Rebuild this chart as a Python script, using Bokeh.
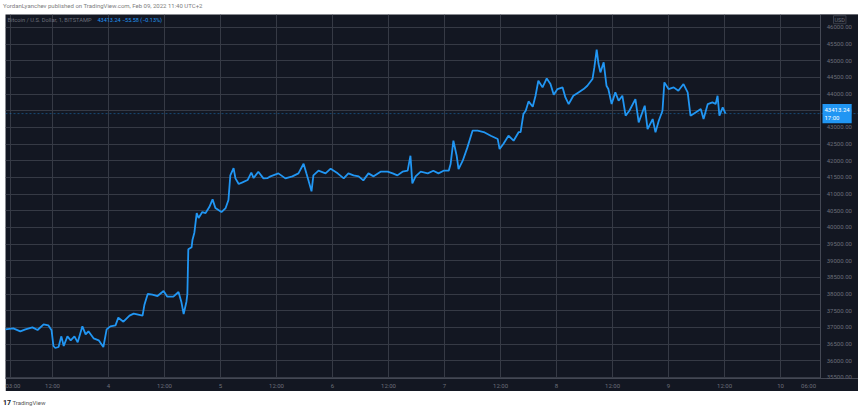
from bokeh.plotting import figure
from bokeh.layouts import column, row
from bokeh.models import (Div, Spacer, FixedTicker, SingleIntervalTicker, PrintfTickFormatter,
                          Span, Label, LinearAxis, BoxAnnotation)
from bokeh.embed import file_html
from bokeh.resources import INLINE

# hours since Feb 03 00:00 (UTC+2)
hours = [1.9, 3.6, 5.1, 6.2, 7.7, 8.8, 10.1, 11.1, 11.8, 12.2, 12.6, 13.3, 13.9, 14.4, 15.2,
         15.9, 16.7, 17.4, 18.4, 19.1, 19.7, 20.8, 21.9, 22.9, 23.6, 24.4, 25.5, 26.1, 27.2,
         28.5, 29.4, 31.3, 31.7, 32.4, 33.4, 34.5, 35.8, 36.6, 37.9, 39.0, 39.6, 40.1, 40.7,
         40.9, 41.1, 41.8, 42.0, 42.4, 42.9, 43.3, 44.1, 44.8, 45.6, 46.3, 46.9, 48.2, 49.1,
         49.7, 50.1, 50.8, 51.2, 51.9, 52.7, 53.8, 54.6, 55.1, 56.1, 57.2, 58.1, 58.7, 60.4,
         61.9, 63.4, 64.7, 65.8, 66.4, 66.9, 67.5, 67.9, 69.0, 70.5, 71.6, 73.1, 74.4, 75.4,
         76.5, 77.6, 78.6, 79.7, 80.8, 82.3, 83.8, 84.9, 85.9, 87.0, 88.1, 88.7, 89.1, 89.8,
         90.9, 92.4, 93.6, 94.7, 95.8, 96.9, 97.3, 97.9, 98.6, 99.0, 99.9, 100.9, 102.0, 103.1,
         104.4, 105.9, 107.4, 107.8, 108.6, 109.7, 110.8, 111.9, 112.3, 112.9, 113.4, 114.0,
         114.9, 115.5, 116.1, 117.0, 117.9, 118.7, 119.4, 120.2, 121.3, 121.9, 122.6, 123.6,
         124.7, 125.8, 126.6, 127.7, 128.1, 128.6, 129.0, 129.4, 130.1, 130.7, 131.1, 131.8,
         132.6, 133.3, 134.1, 134.8, 135.6, 136.9, 137.6, 138.9, 139.5, 140.6, 141.2, 141.9,
         142.7, 143.1, 144.0, 145.1, 146.1, 147.2, 148.1, 148.7, 149.8, 150.9, 151.5, 152.4,
         153.4, 154.1, 154.5, 154.9, 155.6, 156.2]
price = [36940, 36970, 36880, 36940, 37000, 36920, 37090, 37060, 36910, 36440, 36380, 36410,
         36730, 36440, 36730, 36610, 36730, 36550, 37030, 36790, 36880, 36670, 36610, 36410,
         36940, 37030, 37060, 37290, 37170, 37350, 37410, 37350, 37680, 38000, 37980, 37940,
         38090, 37920, 37920, 38060, 37770, 37400, 37770, 38000, 39340, 39400, 39630, 39840,
         40430, 40280, 40460, 40430, 40610, 40840, 40580, 40460, 40580, 40820, 41560, 41780,
         41470, 41300, 41350, 41420, 41640, 41480, 41670, 41470, 41480, 41530, 41620, 41470,
         41530, 41620, 41910, 41620, 41380, 41080, 41560, 41700, 41620, 41760, 41620, 41470,
         41620, 41560, 41530, 41410, 41620, 41530, 41670, 41670, 41620, 41560, 41670, 41700,
         42150, 41320, 41530, 41670, 41620, 41700, 41620, 41700, 41700, 41900, 42600, 42150,
         41750, 42000, 42400, 42900, 42900, 42860, 42750, 42650, 42350, 42500, 42750, 42600,
         42860, 42860, 43400, 43500, 43780, 43620, 43950, 44400, 44200, 44470, 44300, 43980,
         44150, 44200, 43900, 43700, 43950, 44050, 44150, 44250, 44450, 44800, 45330, 44900,
         44650, 44950, 44250, 44150, 43700, 44050, 43800, 43950, 43350, 43500, 43850, 43150,
         43650, 42950, 43250, 42850, 43200, 43500, 44350, 44150, 44200, 44100, 44300, 44050,
         43350, 43450, 43550, 43250, 43700, 43750, 43700, 43950, 43350, 43600, 43413.24]

time_ticks = [3, 12, 24, 36, 48, 60, 72, 84, 96, 108, 120, 132, 144, 156, 168, 174]
time_labels = ["03:00", "12:00", "4", "12:00", "5", "12:00", "6", "12:00", "7", "12:00",
               "8", "12:00", "9", "12:00", "10", "06:00"]
last_price = 43413.24
price_label = "43413.24"
change_label = "43413.24  −55.58 (−0.13%)"
countdown = "17:00"
currency = "USD"
symbol_title = "Bitcoin / U.S. Dollar, 1, BITSTAMP"
header_text = "YordanLyanchev published on TradingView.com, Feb 09, 2022 11:40 UTC+2"

BG = "#131722"
GRID = "#363a45"
TXT = "#6b6e79"
BLUE = "#2196f3"
SCALE_EDGE = 176.6   # where the price scale begins (hours)

p = figure(width=853, height=377, output_backend="svg", toolbar_location=None,
           x_range=(1.93, 184.7), y_range=(35465, 46387), y_axis_location=None,
           background_fill_color=BG, border_fill_color=BG,
           min_border_left=0, min_border_top=0, min_border_right=0, min_border_bottom=10)
p.outline_line_color = None

p.xgrid.ticker = FixedTicker(ticks=time_ticks[:-1])
p.ygrid.ticker = SingleIntervalTicker(interval=500, num_minor_ticks=0)
p.xgrid.grid_line_color = GRID
p.ygrid.grid_line_color = GRID

# price-scale panel (covers the grid right of the scale edge)
p.add_layout(BoxAnnotation(left=SCALE_EDGE, fill_color=BG, fill_alpha=1.0,
                           line_color=None, level="underlay"))

p.line(hours, price, line_color=BLUE, line_width=1.8)

# price axis
yax = LinearAxis(fixed_location=SCALE_EDGE,
                 ticker=SingleIntervalTicker(interval=500, num_minor_ticks=0),
                 formatter=PrintfTickFormatter(format="%.2f"))
p.add_layout(yax, "right")

p.xaxis.ticker = FixedTicker(ticks=time_ticks)
p.xaxis.major_label_overrides = {t: l for t, l in zip(time_ticks, time_labels)}
for ax in (p.xaxis[0], yax):
    ax.axis_line_color = "#444854"
    ax.major_tick_line_color = None
    ax.major_tick_out = 0
    ax.major_tick_in = 0
    ax.minor_tick_line_color = None
    ax.major_label_text_color = TXT
    ax.major_label_text_font = "Roboto"
    ax.major_label_text_font_size = "6px"
yax.major_label_standoff = 6
p.xaxis.major_label_standoff = 3

# last price line and label
p.add_layout(Span(location=last_price, dimension="width", line_color=BLUE,
                  line_alpha=0.4, line_dash="2 2", line_width=1))
p.add_layout(Label(x=817, x_units="screen", y=last_price, text=price_label + "\n" + countdown,
                   text_color="white", text_font_size="6px", text_font="Roboto",
                   text_baseline="middle", background_fill_color=BLUE, padding=2))
p.add_layout(Label(x=828, x_units="screen", y=46230, text=currency, text_color=TXT,
                   text_font_size="5.5px", text_font="Roboto", text_baseline="middle",
                   border_line_color="#3a3e49", padding=1))

# legend texts
p.add_layout(Label(x=2, x_units="screen", y=46210, text=symbol_title, text_color=TXT,
                   text_font_size="5.7px", text_font="Roboto", text_baseline="middle"))
p.add_layout(Label(x=92, x_units="screen", y=46210, text=change_label, text_color=BLUE,
                   text_font_size="5.5px", text_font="Roboto", text_baseline="middle"))

header = Div(text=header_text, width=863, height=14, margin=(0, 0, 0, 0),
             styles={"font-size": "6px", "line-height": "12px", "color": "#7d7d7d",
                     "font-family": "Roboto", "padding-left": "3px"})
footer = Div(text="<b style='color:#131722;font-size:7px'>17</b> TradingView", width=863,
             height=18, margin=(0, 0, 0, 0),
             styles={"font-size": "6px", "line-height": "12px", "color": "#555",
                     "font-family": "Roboto", "padding-top": "6px", "padding-left": "3px"})

layout = column(header, row(Spacer(width=5, height=377), p), footer, spacing=0)
open("out.html", "w").write(file_html(layout, INLINE))
